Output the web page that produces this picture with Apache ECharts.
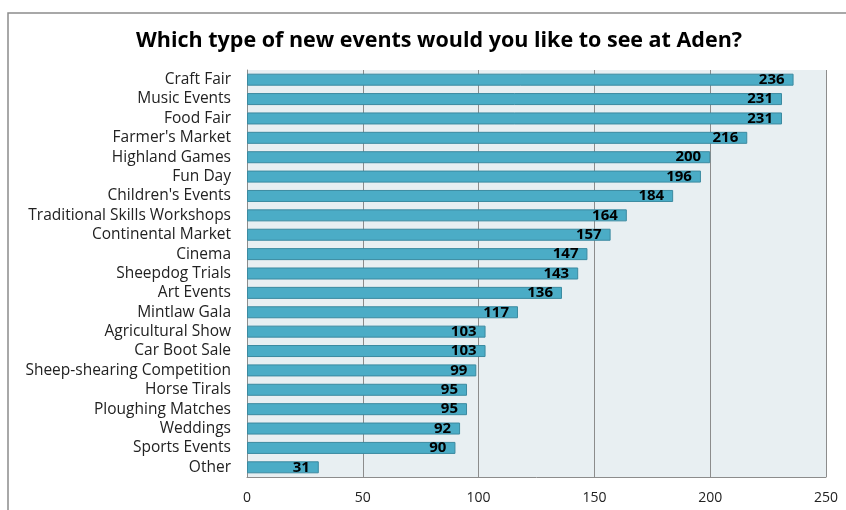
<!DOCTYPE html>
<html>
<head>
<meta charset="utf-8">
<script src="https://cdn.jsdelivr.net/npm/echarts@6/dist/echarts.min.js"></script>
<style>
  html, body { margin: 0; padding: 0; background: #fff; }
  #chart { width: 846px; height: 510px; }
</style>
</head>
<body>
<div id="chart"></div>
<script>
// Survey responses: preferred new event types
const categories = [
  "Craft Fair", "Music Events", "Food Fair", "Farmer's Market", "Highland Games",
  "Fun Day", "Children's Events", "Traditional Skills Workshops", "Continental Market",
  "Cinema", "Sheepdog Trials", "Art Events", "Mintlaw Gala", "Agricultural Show",
  "Car Boot Sale", "Sheep-shearing Competition", "Horse Tirals", "Ploughing Matches",
  "Weddings", "Sports Events", "Other"
];
const responses = [236, 231, 231, 216, 200, 196, 184, 164, 157, 147, 143, 136, 117, 103, 103, 99, 95, 95, 92, 90, 31];
const xTicks = [0, 50, 100, 150, 200, 250];

const chart = echarts.init(document.getElementById('chart'));
chart.setOption({
  animation: false,
  title: {
    text: 'Which type of new events would you like to see at Aden?',
    left: 131,
    top: 25,
    textStyle: { fontFamily: 'Open Sans', fontSize: 21.5, fontWeight: 'bold', color: '#000' }
  },
  graphic: [{
    type: 'rect',
    shape: { x: 8, y: 13, width: 900, height: 600 },
    style: { fill: 'none', stroke: '#8c8c8c', lineWidth: 1.5 },
    silent: true
  }],
  grid: { left: 247, right: 20, top: 70, bottom: 33, show: true, backgroundColor: '#e8eff2', borderWidth: 0 },
  xAxis: {
    type: 'value',
    min: xTicks[0],
    max: xTicks[xTicks.length - 1],
    interval: 50,
    axisLine: { show: true, lineStyle: { color: '#8c8c8c' } },
    axisTick: { show: false },
    splitLine: { show: true, lineStyle: { color: '#8c8c8c', width: 1 } },
    axisLabel: { fontFamily: 'Open Sans', fontSize: 14, color: '#222', margin: 14 }
  },
  yAxis: {
    type: 'category',
    data: categories,
    inverse: true,
    axisLine: { show: true, lineStyle: { color: '#8c8c8c' } },
    axisTick: { show: false },
    axisLabel: { interval: 0, fontFamily: 'Open Sans', fontSize: 15.5, color: '#222', margin: 16 }
  },
  series: [{
    type: 'bar',
    data: responses,
    barCategoryGap: '38%',
    itemStyle: { color: '#4bacc6', borderColor: '#3b8aa0', borderWidth: 1 },
    label: {
      show: true,
      position: 'insideRight',
      distance: 9,
      fontFamily: 'Open Sans',
      fontSize: 15,
      fontWeight: 'bold',
      color: '#000'
    }
  }]
});
</script>
</body>
</html>
